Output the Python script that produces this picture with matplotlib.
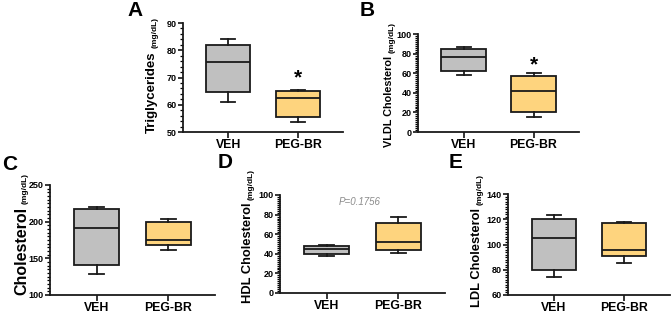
import matplotlib
matplotlib.use("Agg")
from matplotlib import pyplot as plt
from matplotlib.ticker import MultipleLocator

plt.rcParams['font.family'] = ['Liberation Sans', 'DejaVu Sans']

W, H = 671, 314

groups = ['VEH', 'PEG-BR']
# five-number summaries: (min, q1, median, q3, max)
tg_veh = [61, 64.5, 75.7, 82, 84]
tg_peg = [53.5, 55.5, 62.5, 65, 65.5]
vldl_veh = [58, 62, 76.5, 85, 87]
vldl_peg = [15, 20, 41.5, 57, 60.5]
chol_veh = [129, 141, 192, 217, 220]
chol_peg = [162, 168, 175, 200, 204]
hdl_veh = [38, 40, 45, 47.5, 49]
hdl_peg = [41, 43.5, 52, 71.5, 78]
ldl_veh = [74, 80, 105, 120, 123]
ldl_peg = [85, 91, 96, 117, 117.5]

colors = ['#c0c0c0', '#fed47e']


def px_box(x0, y0, x1, y1):
    return [x0 / W, 1 - y1 / H, (x1 - x0) / W, (y1 - y0) / H]


def stats(v):
    return dict(whislo=v[0], q1=v[1], med=v[2], q3=v[3], whishi=v[4], fliers=[])


def panel(fig, box, veh, peg, ylim, step, minor, title, title_size, lab_x, lab_y0):
    ax = fig.add_axes(px_box(*box))
    line = dict(color='#1a1a1a', linewidth=1.3)
    bp = ax.bxp([stats(veh), stats(peg)], positions=[1, 2], widths=0.63,
                capwidths=0.2, patch_artist=True, showfliers=False,
                boxprops=dict(edgecolor='#1a1a1a', linewidth=1.3),
                whiskerprops=line, capprops=line,
                medianprops=dict(color='#1a1a1a', linewidth=1.3))
    for patch, c in zip(bp['boxes'], colors):
        patch.set_facecolor(c)
    ax.set_xlim(0.35, 2.65)
    ax.set_ylim(*ylim)
    ax.set_xticks([1, 2])
    ax.set_xticklabels(groups, fontsize=8.8, fontweight='bold')
    ax.yaxis.set_major_locator(MultipleLocator(step))
    ax.yaxis.set_minor_locator(MultipleLocator(minor))
    for lab in ax.get_yticklabels():
        lab.set_fontweight('bold')
    ax.tick_params(axis='y', labelsize=6.5, length=3.5, width=1.1, pad=1)
    ax.tick_params(axis='y', which='minor', length=2, width=0.9)
    ax.tick_params(axis='x', length=4, width=1.1, pad=1)
    for s in ['top', 'right']:
        ax.spines[s].set_visible(False)
    for s in ['left', 'bottom']:
        ax.spines[s].set_linewidth(1.3)
        ax.spines[s].set_color('#1a1a1a')

    t = fig.text(lab_x / W, 1 - lab_y0 / H, title, rotation=90, ha='center',
                 va='bottom', fontsize=title_size, fontweight='bold')
    fig.canvas.draw()
    bb = t.get_window_extent()
    fig.text((lab_x + 3) / W, (bb.y1 + 3) / H, '(mg/dL)', rotation=90,
             ha='center', va='bottom', fontsize=6, fontweight='bold')
    return ax


fig = plt.figure(figsize=(W / 100, H / 100), dpi=100)

ax_a = panel(fig, (183, 23, 343, 132), tg_veh, tg_peg, (50, 90), 10, 2,
             'Triglycerides', 9.5, 152, 133)
ax_b = panel(fig, (418, 34, 579, 132), vldl_veh, vldl_peg, (0, 100), 20, 2,
             'VLDL Cholesterol', 7.8, 389, 147)
ax_c = panel(fig, (50, 185, 215, 295), chol_veh, chol_peg, (100, 250), 50, 5,
             'Cholesterol', 11.5, 22, 295)
ax_d = panel(fig, (280, 195, 445, 293), hdl_veh, hdl_peg, (0, 100), 20, 2,
             'HDL Cholesterol', 9.3, 248, 303)
ax_e = panel(fig, (508, 194, 670, 295), ldl_veh, ldl_peg, (60, 140), 20, 2,
             'LDL Cholesterol', 9.3, 477, 307)

ax_a.text(2, 70, '*', ha='center', va='center', fontsize=15, fontweight='bold')
ax_b.text(2, 68, '*', ha='center', va='center', fontsize=15, fontweight='bold')
ax_d.text(1.46, 93, 'P=0.1756', ha='center', va='center', fontsize=7,
          style='italic', color='#8c8c8c')

for letter, x, y in [('A', 135, 11), ('B', 367, 10), ('C', 10, 164),
                     ('D', 225, 162), ('E', 456, 163)]:
    fig.text(x / W, 1 - y / H, letter, ha='center', va='center',
             fontsize=15, fontweight='bold')

fig.savefig('out.png', dpi=100)
